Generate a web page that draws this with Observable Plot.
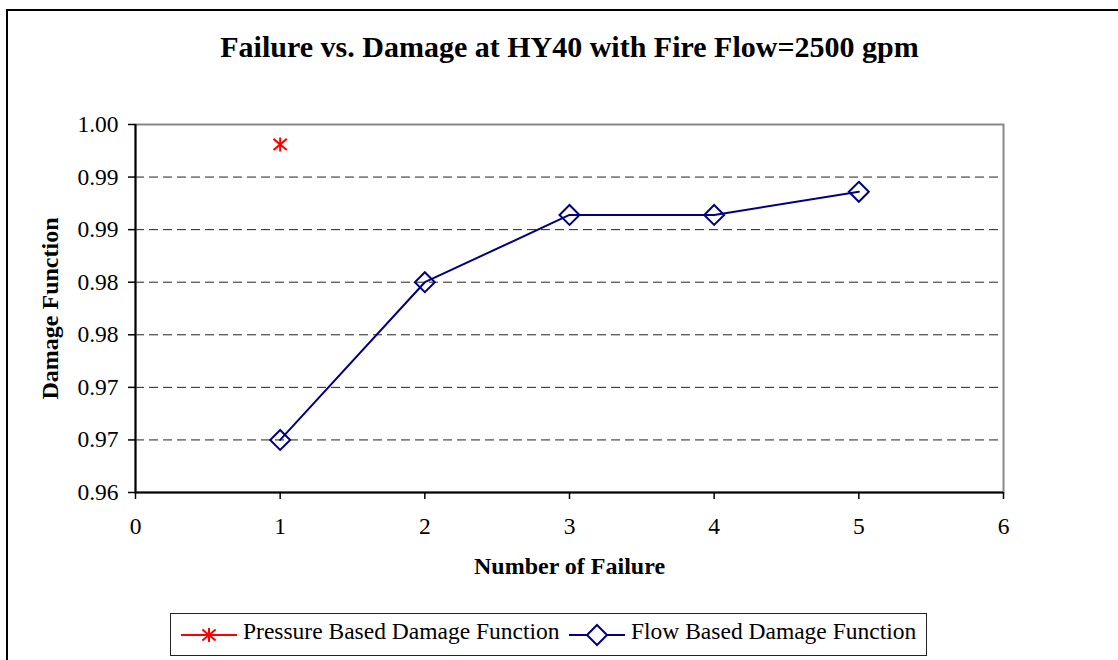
<!DOCTYPE html>
<html>
<head>
<meta charset="utf-8">
<script src="https://cdn.jsdelivr.net/npm/d3@7"></script>
<script src="https://cdn.jsdelivr.net/npm/@observablehq/plot@0.6"></script>
<style>
  html, body { margin: 0; padding: 0; background: #fff; }
  #wrap { position: relative; width: 1118px; height: 660px; overflow: hidden; background: #fff; }
  #border { position: absolute; left: 6px; top: 9px; width: 1300px; height: 900px;
            border-left: 2px solid #000; border-top: 2px solid #000; box-sizing: border-box; }
  #chart { position: absolute; left: 0; top: 0; }
  #legend { position: absolute; left: 170px; top: 613px; width: 757px; height: 43px;
            border: 1px solid #222; box-sizing: border-box; background: #fff; }
  #legend svg { display: block; }
</style>
</head>
<body>
<div id="wrap">
  <div id="border"></div>
  <div id="chart"></div>
  <div id="legend"></div>
</div>
<script>
// ---- data ----
const titleText = "Failure vs. Damage at HY40 with Fire Flow=2500 gpm";
const xLabel = "Number of Failure";
const yLabel = "Damage Function";
const xTicks = [0, 1, 2, 3, 4, 5, 6];
const yTicks = [0.960, 0.965, 0.970, 0.975, 0.980, 0.985, 0.990, 0.995];
const yTickLabels = ["0.96", "0.97", "0.97", "0.98", "0.98", "0.99", "0.99", "1.00"];
const seriesNames = ["Pressure Based Damage Function", "Flow Based Damage Function"];
const pressureFailures = [1];
const pressureDamage = [0.9931];
const flowFailures = [1, 2, 3, 4, 5];
const flowDamage = [0.9650, 0.9800, 0.9864, 0.9864, 0.9886];

const RED = "#ff0000";
const NAVY = "#000080";
const FONT = '"Liberation Serif", "Times New Roman", Times, serif';

const pressure = pressureFailures.map((x, i) => ({x, y: pressureDamage[i]}));
const flow = flowFailures.map((x, i) => ({x, y: flowDamage[i]}));

// Excel-like star marker: vertical bar plus an X
const starSymbol = {
  draw(ctx, size) {
    const r = Math.sqrt(size / Math.PI);
    const a = r * 0.95, b = r * 0.8;
    ctx.moveTo(0, -r); ctx.lineTo(0, r);
    ctx.moveTo(-a, -b); ctx.lineTo(a, b);
    ctx.moveTo(-a, b); ctx.lineTo(a, -b);
  }
};

const yFmt = d => {
  const i = yTicks.findIndex(t => Math.abs(t - d) < 1e-9);
  return i >= 0 ? yTickLabels[i] : "";
};

const chart = Plot.plot({
  width: 1118,
  height: 660,
  marginLeft: 135,
  marginRight: 115,
  marginTop: 124,
  marginBottom: 168,
  style: {fontFamily: FONT, fontSize: "23px", color: "#000", background: "transparent", overflow: "visible"},
  x: {domain: [0, 6], label: null},
  y: {domain: [0.96, 0.995], label: null},
  marks: [
    Plot.ruleY(yTicks.slice(1, -1), {stroke: "#222", strokeWidth: 1, strokeDasharray: "9,5"}),
    Plot.frame({stroke: "#888", strokeWidth: 2}),
    Plot.ruleX([0], {stroke: "#000", strokeWidth: 2}),
    Plot.ruleY([0.96], {stroke: "#000", strokeWidth: 2}),
    Plot.axisX({ticks: xTicks, tickFormat: d => String(d), tickSize: 7, tickPadding: 18,
                fontSize: 23.5, stroke: "#000", strokeWidth: 1.5, label: null}),
    Plot.axisY({ticks: yTicks, tickFormat: yFmt, tickSize: 7, tickPadding: 10,
                fontSize: 23.5, stroke: "#000", strokeWidth: 1.5, label: null}),
    Plot.line(flow, {x: "x", y: "y", stroke: NAVY, strokeWidth: 2}),
    Plot.dot(flow, {x: "x", y: "y", symbol: "diamond2", r: 9, stroke: NAVY, strokeWidth: 2, fill: "none"}),
    Plot.dot(pressure, {x: "x", y: "y", symbol: starSymbol, r: 7, stroke: RED, strokeWidth: 2, fill: "none"}),
    Plot.text([yLabel], {frameAnchor: "left", dx: -85, rotate: -90, textAnchor: "middle", lineAnchor: "middle",
                         fontSize: 24, fontWeight: "bold", fill: "#000"}),
    Plot.text([xLabel], {frameAnchor: "bottom", dy: 74, lineAnchor: "middle",
                         fontSize: 24, fontWeight: "bold", fill: "#000"}),
    Plot.text([titleText], {frameAnchor: "top", dy: -77, lineAnchor: "middle",
                            fontSize: 30, fontWeight: "bold", fill: "#000"})
  ]
});
document.getElementById("chart").appendChild(chart);

// ---- legend ----
const lg = d3.select("#legend").append("svg")
  .attr("width", 755).attr("height", 41)
  .style("font-family", FONT).style("font-size", "23.5px");
const legendItems = [
  {name: seriesNames[0], color: RED, symbol: starSymbol, size: Math.PI * 49, x0: 10},
  {name: seriesNames[1], color: NAVY, symbol: d3.symbolDiamond2, size: Math.PI * 81, x0: 398}
];
legendItems.forEach(it => {
  const g = lg.append("g").attr("transform", `translate(${it.x0},21)`);
  g.append("line").attr("x1", 0).attr("x2", 56).attr("y1", 0).attr("y2", 0)
    .attr("stroke", it.color).attr("stroke-width", 2);
  g.append("path").attr("d", d3.symbol(it.symbol, it.size)()).attr("transform", "translate(28,0)")
    .attr("stroke", it.color).attr("stroke-width", 2).attr("fill", it.symbol === starSymbol ? "none" : "#fff");
  g.append("text").attr("x", 62).attr("y", 0).attr("dy", "0.18em").attr("fill", "#000").text(it.name);
});
</script>
</body>
</html>
